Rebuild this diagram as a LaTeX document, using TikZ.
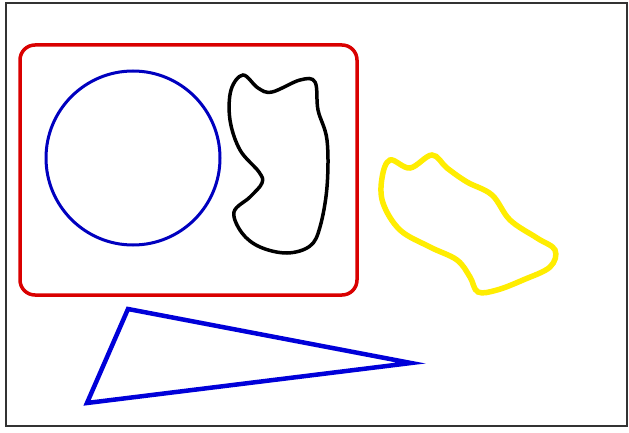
\documentclass[tikz,border=0pt]{standalone}
\begin{document}
\begin{tikzpicture}[x=1pt,y=-1pt]
\useasboundingbox (0,0) rectangle (629,433);
\fill[white] (0,0) rectangle (629,433);
\draw[line width=1.2pt, black!80] (6,3) rectangle (627,426);
% red rounded rectangle
\draw[line width=3.5pt, red!85!black, rounded corners=15pt] (20,45) rectangle (357,295);
% blue circle
\draw[line width=3pt, blue!75!black] (133,158) circle (87);
% black blob
\draw[line width=3.5pt, black] plot[smooth cycle, tension=0.6] coordinates {
 (243,75) (258,88) (272,92) (300,80) (315,82) (318,110) (327,140) (327,187) (320,227) (310,246)
 (287,253) (260,247) (242,233) (234,212) (250,197) (262,183) (259,172) (240,150) (230,120) (231,90)};
% yellow blob
\draw[line width=5.5pt, yellow!95!orange] plot[smooth cycle, tension=0.6] coordinates {
 (390,160) (410,168) (432,155) (447,168) (467,182) (492,195) (510,220) (537,238) (555,250)
 (550,267) (523,280) (497,290) (478,292) (470,277) (457,260) (430,247) (400,230) (383,203) (382,178)};
% blue triangle
\draw[line width=4.5pt, blue!85!black, line join=miter] (128,309) -- (411,363) -- (87,403) -- cycle;
\end{tikzpicture}
\end{document}
